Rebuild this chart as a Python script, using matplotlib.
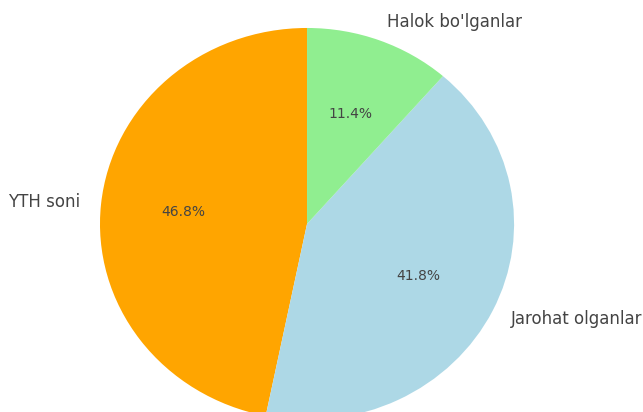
import matplotlib

matplotlib.use("Agg")
import matplotlib.pyplot as plt

labels = ["YTH soni", "Jarohat olganlar", "Halok bo'lganlar"]
values = [46.8, 41.8, 11.4]
colors = ["orange", "lightblue", "lightgreen"]

fig = plt.figure(figsize=(6.43, 4.12), dpi=100)
ax = fig.add_axes([0.075, -0.138, 0.805, 1.189])

wedges, texts, autotexts = ax.pie(
    values,
    labels=labels,
    colors=colors,
    autopct="%1.1f%%",
    startangle=90,
    textprops={"fontsize": 12, "color": "#444444"},
)
for t in autotexts:
    t.set_fontsize(10)

ax.set_aspect("auto")
ax.set_xlim(-1.25, 1.25)
ax.set_ylim(-1.25, 1.25)

fig.savefig("out.png", dpi=100)
